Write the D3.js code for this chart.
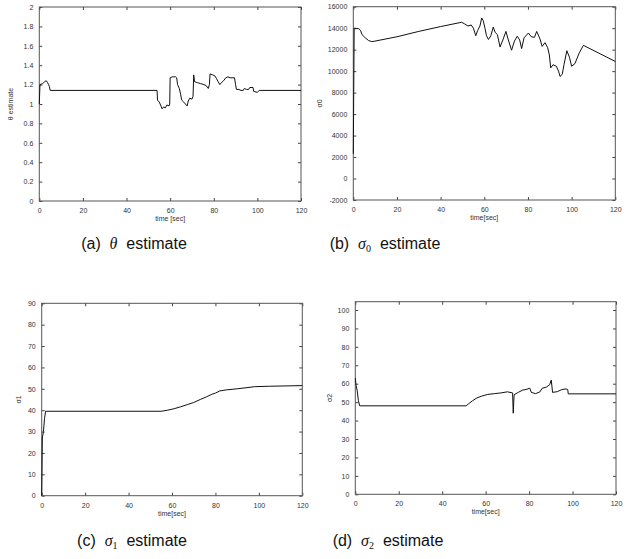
<!DOCTYPE html>
<html>
<head>
<meta charset="utf-8">
<script src="https://d3js.org/d3.v7.min.js"></script>
<style>
  body { margin: 0; background: #fff; }
  svg { display: block; }
  .tick text { font-family: "Liberation Sans", Arial, sans-serif; font-size: 7px; fill: #333; }
</style>
</head>
<body>
<svg id="vis" width="629" height="559"></svg>
<script>
// time axis ticks (shared)
var timeTicks = [0, 20, 40, 60, 80, 100, 120];

// (a) theta estimate  [time, value]
var thetaData = [
  [0, 1.0], [0.3, 1.2], [1.5, 1.21], [2.5, 1.23], [3.2, 1.24], [3.8, 1.22], [4.3, 1.2],
  [4.6, 1.18], [5, 1.14], [54, 1.14], [54.2, 1.04], [55, 1.02], [55.6, 0.99], [56.3, 0.95],
  [57, 0.97], [57.8, 0.96], [58.5, 0.99], [59.5, 0.98], [59.8, 1.0], [60, 1.27], [61, 1.28],
  [62.5, 1.28], [63, 1.27], [63.4, 1.2], [64.2, 1.16], [64.8, 1.1], [65.3, 1.04], [66.2, 1.02],
  [67, 1.0], [67.8, 0.98], [68.3, 1.03], [69, 1.06], [70, 1.05], [70.5, 1.08], [70.8, 1.3],
  [71.2, 1.23], [72.5, 1.22], [74, 1.21], [75.5, 1.2], [76.5, 1.19], [77.5, 1.16], [78, 1.2],
  [78.3, 1.31], [79.5, 1.3], [80.5, 1.29], [81.3, 1.26], [82, 1.23], [82.8, 1.2], [83.5, 1.22],
  [84.5, 1.24], [85.5, 1.27], [86.5, 1.28], [87.5, 1.27], [89.5, 1.27], [90, 1.2], [90.4, 1.15],
  [91.5, 1.15], [92.5, 1.14], [93.5, 1.14], [94, 1.16], [95, 1.15], [96, 1.15], [96.5, 1.17],
  [98, 1.17], [98.3, 1.13], [100, 1.12], [100.8, 1.14], [120, 1.14]
];
var thetaTicks = [0, 0.2, 0.4, 0.6, 0.8, 1, 1.2, 1.4, 1.6, 1.8, 2];

// (b) sigma0 estimate
var sigma0Data = [
  [0, 2300], [0.4, 14000], [2.5, 13950], [3.3, 13800], [4, 13400], [5.5, 13100], [7, 12850],
  [8.5, 12750], [9.5, 12780], [20, 13200], [30, 13700], [40, 14150], [49.6, 14550], [51, 14400],
  [52.5, 14200], [54, 14300], [55, 14000], [56.1, 13300], [57, 13800], [58, 14200], [58.8, 14950],
  [59.5, 14700], [60.3, 14000], [61, 13300], [61.9, 12950], [63, 13300], [64.1, 14100],
  [65, 13600], [66, 13400], [67.2, 12250], [68.5, 12900], [69.9, 13700], [71, 12900],
  [72.5, 11950], [73.8, 12800], [75.1, 13250], [76.2, 12900], [77.1, 12100], [78.2, 13100],
  [80.2, 13550], [81.5, 13200], [83, 13150], [84, 13700], [85.5, 13000], [86.5, 12300],
  [87.8, 12650], [89, 12200], [89.8, 11500], [90.4, 10300], [91.5, 10600], [93, 10450],
  [94, 10000], [94.7, 9500], [95.7, 9700], [96.5, 10600], [97.8, 11900], [99, 11300],
  [100, 10450], [101.5, 10700], [103.5, 11700], [105.4, 12400], [120, 10900]
];
var sigma0Ticks = [-2000, 0, 2000, 4000, 6000, 8000, 10000, 12000, 14000, 16000];

// (c) sigma1 estimate
var sigma1Data = [
  [0, 0], [0.3, 27], [0.8, 30], [1.3, 36], [1.8, 39.5], [55, 39.5], [58, 40], [61, 40.7],
  [64, 41.6], [67, 42.6], [70, 43.6], [73, 45], [76, 46.3], [78.5, 47.5], [80, 48],
  [82, 49], [85, 49.5], [90, 50], [95, 50.6], [98, 51], [105, 51.2], [120, 51.5]
];
var sigma1Ticks = [0, 10, 20, 30, 40, 50, 60, 70, 80, 90];

// (d) sigma2 estimate
var sigma2Data = [
  [0, 63], [0.4, 59], [0.9, 56], [1.4, 51], [2, 48], [51, 48], [52, 49], [54, 50.8],
  [56, 52.3], [58, 53.2], [61, 54.2], [64, 54.6], [67, 55], [70, 55.6], [72.4, 55],
  [72.7, 44], [73.1, 54], [75, 55.3], [77, 56.5], [79, 57], [80.3, 57.6], [81, 55.3],
  [83, 54.6], [85, 55.6], [86, 57.5], [88, 58.2], [89.5, 59.5], [90.2, 62], [90.8, 55.3],
  [93, 55.7], [95, 56.8], [97, 57.2], [97.8, 56.8], [98, 54.5], [120, 54.5]
];
var sigma2Ticks = [0, 10, 20, 30, 40, 50, 60, 70, 80, 90, 100];

var svg = d3.select("#vis");
var plain = function(d) { return String(d); };

function drawPanel(p) {
  var x = d3.scaleLinear().domain([0, 120]).range([p.left, p.right]);
  var y = d3.scaleLinear().domain(p.ydom).range([p.bottom, p.top]);
  var g = svg.append("g");

  // inward ticks on all four sides, matlab style
  g.append("g").attr("transform", "translate(0," + p.bottom + ")")
    .call(d3.axisBottom(x).tickValues(timeTicks).tickFormat(plain).tickSizeInner(-3).tickSizeOuter(0).tickPadding(7));
  g.append("g").attr("transform", "translate(0," + p.top + ")")
    .call(d3.axisTop(x).tickValues(timeTicks).tickSizeInner(-3).tickSizeOuter(0).tickFormat(""));
  g.append("g").attr("transform", "translate(" + p.left + ",0)")
    .call(d3.axisLeft(y).tickValues(p.yticks).tickFormat(plain).tickSizeInner(-3).tickSizeOuter(0).tickPadding(6));
  g.append("g").attr("transform", "translate(" + p.right + ",0)")
    .call(d3.axisRight(y).tickValues(p.yticks).tickSizeInner(-3).tickSizeOuter(0).tickFormat(""));
  g.selectAll(".domain").remove();
  g.selectAll(".tick line").attr("stroke", "#444");

  g.append("rect")
    .attr("x", p.left).attr("y", p.top)
    .attr("width", p.right - p.left).attr("height", p.bottom - p.top)
    .attr("fill", "none").attr("stroke", "#555").attr("stroke-width", 1);

  var line = d3.line().x(function(d) { return x(d[0]); }).y(function(d) { return y(d[1]); });
  g.append("path").datum(p.data)
    .attr("d", line)
    .attr("fill", "none").attr("stroke", "#111").attr("stroke-width", 1);

  // x label
  g.append("text")
    .attr("x", (p.left + p.right) / 2).attr("y", p.bottom + 20)
    .attr("text-anchor", "middle")
    .style("font-family", "Liberation Sans, Arial, sans-serif").style("font-size", "7px").style("fill", "#333")
    .text(p.xlabel);

  // y label
  g.append("text")
    .attr("transform", "translate(" + p.ylx + "," + ((p.top + p.bottom) / 2) + ") rotate(-90)")
    .attr("text-anchor", "middle")
    .style("font-family", "Liberation Sans, Arial, sans-serif").style("font-size", "7px").style("fill", "#333")
    .text(p.ylabel);

  // caption
  var cap = svg.append("text")
    .attr("x", p.capx).attr("y", p.capy)
    .attr("text-anchor", "middle")
    .style("font-family", "Liberation Sans, Arial, sans-serif").style("font-size", "16px").style("fill", "#111");
  cap.append("tspan").text(p.tag + "\u00a0\u00a0");
  cap.append("tspan").style("font-family", "Liberation Serif, serif").style("font-style", "italic").text(p.sym);
  if (p.sub) {
    cap.append("tspan").attr("dy", 3).style("font-family", "Liberation Serif, serif").style("font-size", "10px").text(p.sub);
    cap.append("tspan").attr("dy", -3).text("\u00a0\u00a0estimate");
  } else {
    cap.append("tspan").text("\u00a0\u00a0estimate");
  }
}

drawPanel({ left: 39.3, right: 301, top: 7, bottom: 201, ydom: [0, 2], yticks: thetaTicks,
  data: thetaData, xlabel: "time [sec]", ylabel: "\u03b8 estimate", ylx: 13,
  tag: "(a)", sym: "\u03b8", sub: null, capx: 134, capy: 249 });
drawPanel({ left: 353.3, right: 615.3, top: 6.7, bottom: 200, ydom: [-2000, 16000], yticks: sigma0Ticks,
  data: sigma0Data, xlabel: "time[sec]", ylabel: "\u03c30", ylx: 322,
  tag: "(b)", sym: "\u03c3", sub: "0", capx: 385, capy: 249 });
drawPanel({ left: 41.7, right: 302.3, top: 303.3, bottom: 495.7, ydom: [0, 90], yticks: sigma1Ticks,
  data: sigma1Data, xlabel: "time[sec]", ylabel: "\u03c31", ylx: 21,
  tag: "(c)", sym: "\u03c3", sub: "1", capx: 132, capy: 546 });
drawPanel({ left: 355.3, right: 616, top: 301.7, bottom: 494.3, ydom: [0, 104.5], yticks: sigma2Ticks,
  data: sigma2Data, xlabel: "time[sec]", ylabel: "\u03c32", ylx: 332,
  tag: "(d)", sym: "\u03c3", sub: "2", capx: 388, capy: 546 });
</script>
</body>
</html>
